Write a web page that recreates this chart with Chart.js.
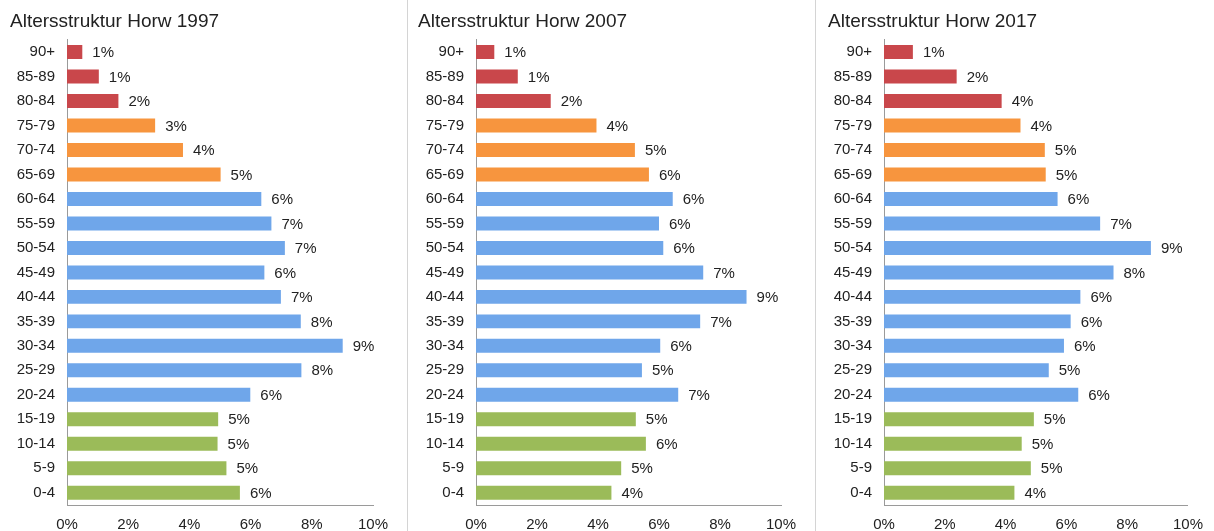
<!DOCTYPE html>
<html>
<head>
<meta charset="utf-8">
<title>Altersstruktur Horw</title>
<script src="https://cdn.jsdelivr.net/npm/chart.js@4"></script>
<style>
  html, body { margin: 0; padding: 0; background: #fff; }
  #wrap { position: relative; width: 1214px; height: 531px; overflow: hidden; }
  canvas { position: absolute; top: 0; }
  .divider { position: absolute; top: 0; width: 1px; height: 531px; background: #d4d4d4; }
</style>
</head>
<body>
<div id="wrap">
  <canvas id="c1997" width="405" height="531" style="left:0"></canvas>
  <div class="divider" style="left:407px"></div>
  <canvas id="c2007" width="404" height="531" style="left:408px"></canvas>
  <div class="divider" style="left:815px"></div>
  <canvas id="c2017" width="398" height="531" style="left:816px"></canvas>
</div>
<script>
const ageGroups = ["90+", "85-89", "80-84", "75-79", "70-74", "65-69", "60-64", "55-59", "50-54",
  "45-49", "40-44", "35-39", "30-34", "25-29", "20-24", "15-19", "10-14", "5-9", "0-4"];

// share of population in %
const share1997 = [0.5, 1.04, 1.68, 2.88, 3.79, 5.02, 6.35, 6.68, 7.12, 6.45, 6.99, 7.64, 9.01, 7.66, 5.99, 4.94, 4.92, 5.21, 5.65];
const share2007 = [0.6, 1.37, 2.45, 3.95, 5.21, 5.67, 6.45, 6.0, 6.14, 7.45, 8.87, 7.35, 6.04, 5.44, 6.63, 5.24, 5.57, 4.76, 4.44];
const share2017 = [0.95, 2.39, 3.87, 4.49, 5.29, 5.32, 5.71, 7.11, 8.78, 7.55, 6.46, 6.14, 5.92, 5.42, 6.39, 4.93, 4.53, 4.83, 4.29];

const xTicks = [0, 2, 4, 6, 8, 10];

// colour per age band: 80+ red, 65-79 orange, 20-64 blue, 0-19 green
const groupColors = ageGroups.map(function (g, i) {
  if (i < 3) return "#c9474b";
  if (i < 6) return "#f7953e";
  if (i < 15) return "#6fa6ea";
  return "#9bbb59";
});

const FONT = "'Liberation Sans', Arial, sans-serif";
const TEXT = "#222";

// value labels at the end of each bar
const barLabels = {
  id: "barLabels",
  afterDatasetsDraw(chart) {
    const ctx = chart.ctx;
    const meta = chart.getDatasetMeta(0);
    const values = chart.data.datasets[0].data;
    ctx.save();
    ctx.font = "15px " + FONT;
    ctx.fillStyle = TEXT;
    ctx.textAlign = "left";
    ctx.textBaseline = "middle";
    meta.data.forEach(function (bar, i) {
      ctx.fillText(Math.round(values[i]) + "%", bar.x + 10, bar.y + 1);
    });
    ctx.restore();
  }
};

function makeChart(id, title, values, padLeft, yWidth, padRight) {
  const ctx = document.getElementById(id).getContext("2d");
  return new Chart(ctx, {
    type: "bar",
    data: {
      labels: ageGroups,
      datasets: [{
        data: values,
        backgroundColor: groupColors,
        borderWidth: 0,
        categoryPercentage: 1,
        barPercentage: 0.57
      }]
    },
    options: {
      indexAxis: "y",
      responsive: false,
      animation: false,
      layout: { padding: { left: padLeft, right: padRight, top: 0, bottom: 0 } },
      plugins: {
        legend: { display: false },
        tooltip: { enabled: false },
        title: {
          display: true,
          text: title,
          align: "start",
          color: TEXT,
          font: { family: FONT, size: 19, weight: "normal" },
          padding: { top: 10, bottom: 7 }
        }
      },
      scales: {
        x: {
          min: 0,
          max: 10,
          afterBuildTicks(axis) {
            axis.ticks = xTicks.map(v => ({ value: v }));
          },
          afterFit(axis) { axis.height = 26; },
          grid: { display: false, drawTicks: false },
          border: { display: true, color: "#9a9a9a", width: 1 },
          ticks: {
            padding: 11,
            color: TEXT,
            font: { family: FONT, size: 15 },
            maxRotation: 0,
            callback: v => v + "%"
          }
        },
        y: {
          afterFit(axis) { axis.width = yWidth; },
          grid: { display: false, drawTicks: false },
          border: { display: true, color: "#9a9a9a", width: 1 },
          ticks: {
            padding: 12,
            color: TEXT,
            font: { family: FONT, size: 15 },
            autoSkip: false
          }
        }
      }
    },
    plugins: [barLabels]
  });
}

makeChart("c1997", "Altersstruktur Horw 1997", share1997, 10, 57, 32);
makeChart("c2007", "Altersstruktur Horw 2007", share2007, 10, 58, 31);
makeChart("c2017", "Altersstruktur Horw 2017", share2017, 12, 56, 24);
</script>
</body>
</html>
